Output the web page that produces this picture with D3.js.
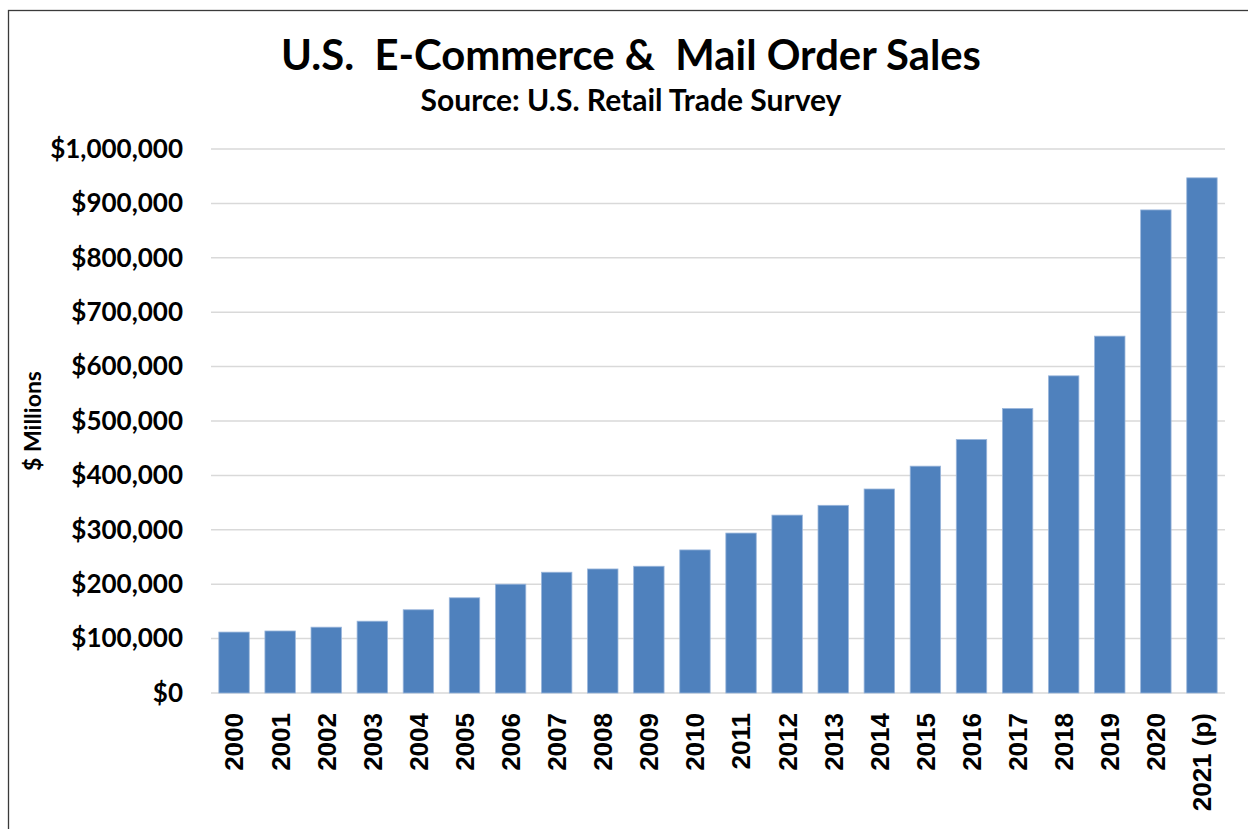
<!DOCTYPE html>
<html>
<head>
<meta charset="utf-8">
<script src="https://d3js.org/d3.v7.min.js"></script>
<style>
  html, body { margin: 0; padding: 0; background: #ffffff; }
  svg { display: block; }
</style>
</head>
<body>
<script>
// Annual U.S. e-commerce & mail order sales, $ millions
const years = ["2000","2001","2002","2003","2004","2005","2006","2007","2008","2009","2010",
               "2011","2012","2013","2014","2015","2016","2017","2018","2019","2020","2021 (p)"];
const sales = [112000,114000,121000,132000,153000,175000,200000,222000,228000,233000,263000,
               294000,327000,345000,375000,417000,466000,523000,583000,656000,888000,947000];
const yTicks = [0,100000,200000,300000,400000,500000,600000,700000,800000,900000,1000000];

const W = 1248, H = 829;
const margin = { top: 149, right: 23, bottom: 136, left: 211 };

const svg = d3.select("body").append("svg")
  .attr("width", W).attr("height", H);

// outer frame
svg.append("rect")
  .attr("x", 8.5).attr("y", 10.5)
  .attr("width", W + 20).attr("height", H + 20)
  .attr("fill", "none").attr("stroke", "#3a3a3a").attr("stroke-width", 1.3);

const titleFont = "Lato, 'Open Sans', sans-serif";

svg.append("text")
  .attr("x", 631).attr("y", 70)
  .attr("text-anchor", "middle")
  .style("font-family", titleFont).style("font-weight", 700)
  .style("font-size", "41.8px").attr("fill", "#000")
  .attr("xml:space", "preserve")
  .text("U.S.  E-Commerce &  Mail Order Sales");

svg.append("text")
  .attr("x", 631).attr("y", 111)
  .attr("text-anchor", "middle")
  .style("font-family", titleFont).style("font-weight", 700)
  .style("font-size", "30px").attr("fill", "#000")
  .text("Source: U.S. Retail Trade Survey");

const x = d3.scaleBand()
  .domain(years)
  .range([margin.left, W - margin.right])
  .paddingInner(0.34).paddingOuter(0.17);

const y = d3.scaleLinear()
  .domain([0, 1000000])
  .range([H - margin.bottom, margin.top]);

// gridlines
svg.append("g")
  .selectAll("line")
  .data(yTicks)
  .join("line")
  .attr("x1", margin.left).attr("x2", W - margin.right)
  .attr("y1", d => y(d)).attr("y2", d => y(d))
  .attr("stroke", "#d9d9d9").attr("stroke-width", 1.5);

// bars
svg.append("g")
  .selectAll("rect")
  .data(years.map((yr, i) => ({ yr, v: sales[i] })))
  .join("rect")
  .attr("x", d => x(d.yr))
  .attr("y", d => y(d.v))
  .attr("width", x.bandwidth())
  .attr("height", d => y(0) - y(d.v))
  .attr("fill", "#4f81bd")
  .attr("stroke", "#9ab6db").attr("stroke-width", 0.8);

// y axis
const fmt = v => "$" + d3.format(",")(v);
const yAxis = svg.append("g")
  .attr("transform", `translate(${margin.left},0)`)
  .call(d3.axisLeft(y).tickValues(yTicks).tickFormat(fmt).tickSize(0).tickPadding(28));
yAxis.select(".domain").remove();
yAxis.selectAll("text")
  .style("font-family", titleFont).style("font-weight", 700)
  .style("font-size", "26px").attr("fill", "#000");

// x axis
const xAxis = svg.append("g")
  .attr("transform", `translate(0,${H - margin.bottom})`)
  .call(d3.axisBottom(x).tickSize(0));
xAxis.select(".domain").remove();
xAxis.selectAll("text")
  .attr("transform", "rotate(-90)")
  .attr("x", -20).attr("y", 0).attr("dy", "0.36em")
  .attr("text-anchor", "end")
  .style("font-family", "'Liberation Sans', Arial, sans-serif").style("font-weight", 700)
  .style("font-size", "26px").attr("fill", "#000");

// y axis title
svg.append("text")
  .attr("transform", "translate(41,421) rotate(-90)")
  .attr("text-anchor", "middle")
  .style("font-family", titleFont).style("font-weight", 700)
  .style("font-size", "23px").attr("fill", "#000")
  .text("$ Millions");
</script>
</body>
</html>
